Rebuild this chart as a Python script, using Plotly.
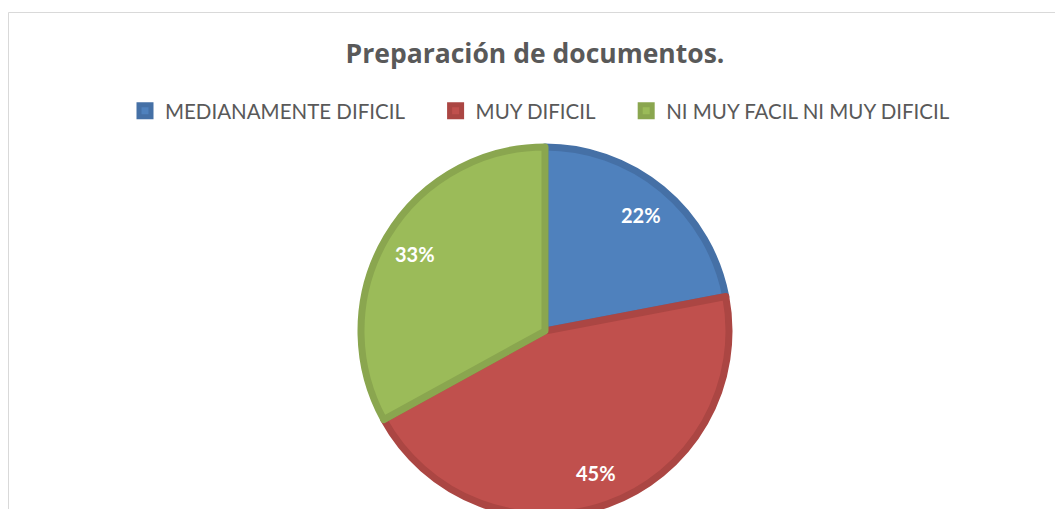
import math
import plotly.graph_objects as go

categories = ["MEDIANAMENTE DIFICIL", "MUY DIFICIL", "NI MUY FACIL NI MUY DIFICIL"]
values = [22, 45, 33]
fill_colors = ["#4F81BD", "#C0504D", "#9BBB59"]
edge_colors = ["#4570A6", "#AB4643", "#8AA64F"]
title_text = "Preparación de documentos."

W, H = 1063, 560
# pie box in paper pixels (left, right, top, bottom)
PL, PR, PT, PB = 353, 721, 139, 507
LABEL_R = 0.82  # label distance as fraction of radius

# legend labels padded so entries spread like the original
pad = "\u00a0" * 5
legend_labels = [c + pad for c in categories[:-1]] + [categories[-1]]

fig = go.Figure(
    go.Pie(
        labels=legend_labels,
        values=values,
        sort=False,
        direction="clockwise",
        rotation=0,
        marker=dict(colors=fill_colors, line=dict(color=edge_colors, width=7)),
        textinfo="none",
        domain=dict(x=[PL / W, PR / W], y=[(H - PB) / H, (H - PT) / H]),
        hovertemplate="%{label}: %{percent:.0%}<extra></extra>",
    )
)

# percentage labels placed along each slice's mid-angle
total = sum(values)
cx, cy = (PL + PR) / 2, (PT + PB) / 2
r = (PR - PL) / 2
annotations = []
cum = 0
for v in values:
    mid = (cum + v / 2) / total * 2 * math.pi
    cum += v
    px = cx + LABEL_R * r * math.sin(mid)
    py = cy - LABEL_R * r * math.cos(mid)
    annotations.append(dict(
        x=px / W, y=1 - py / H, xref="paper", yref="paper",
        text="<b>%d%%</b>" % round(v / total * 100),
        showarrow=False, xanchor="center", yanchor="middle",
        font=dict(family="Lato", size=20, color="white"),
    ))

fig.update_layout(
    width=W,
    height=H,
    margin=dict(l=0, r=0, t=0, b=0),
    paper_bgcolor="white",
    title=dict(
        text="<b>" + title_text + "</b>",
        x=527 / W, xanchor="center",
        y=1 - 46 / H, yanchor="middle",
        font=dict(family="Open Sans", size=26.5, color="#595959"),
    ),
    legend=dict(
        orientation="h",
        x=532 / W, xanchor="center",
        y=1 - 103 / H, yanchor="middle",
        font=dict(family="Lato", size=20.5, color="#595959"),
        itemwidth=30,
    ),
    annotations=annotations,
    shapes=[
        dict(type="rect", xref="paper", yref="paper",
             x0=0.5 / W, x1=1.2, y0=-0.2, y1=1 - 4.5 / H,
             line=dict(color="#D9D9D9", width=1), fillcolor="rgba(0,0,0,0)", layer="below"),
    ],
)

fig.write_html("out.html")
